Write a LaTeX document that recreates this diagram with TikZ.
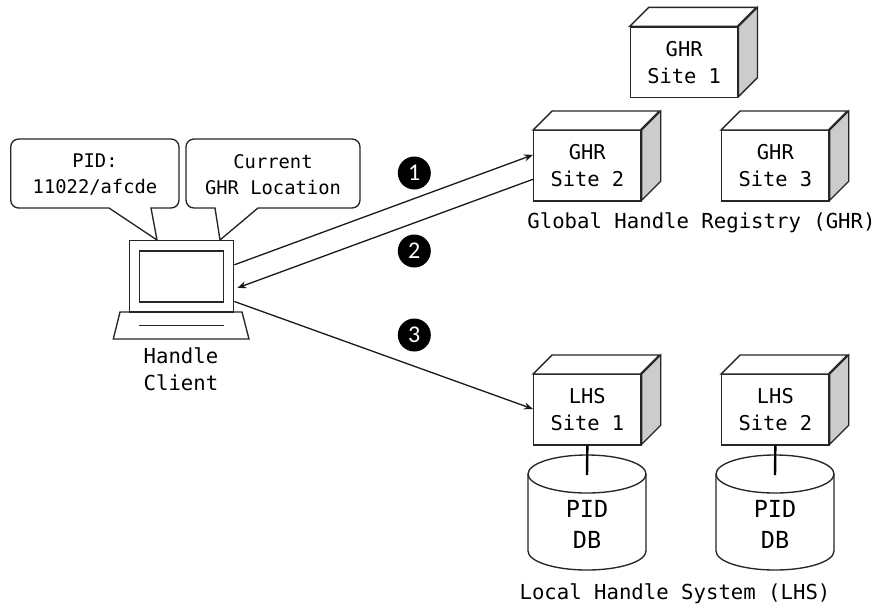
\documentclass[tikz,border=0pt]{standalone}
\usepackage{fontspec}
\setmainfont{Liberation Sans}
\newfontfamily\monof{DejaVu Sans Mono}
\newfontfamily\digitf{Carlito}
\usetikzlibrary{calc,arrows.meta}
\newcommand{\mtxt}[2]{\fontsize{#1}{#2}\selectfont\monof}
\newcommand{\cubebox}[5]{% name, left, top, line1, line2
  \node[frontface] (#1) at (#2+53.65,#3+35.15) {\raisebox{-1.2pt}{#4}\\\raisebox{-1.2pt}{#5}};
  \draw[edge,fill=white] (#1.north west) -- ++(19,-19) -- ++(107.3,0) -- ++(-19,19) -- cycle;
  \draw[edge,fill=sidegray] (#1.north east) -- ++(19,-19) -- ++(0,70.3) -- ++(-19,19) -- cycle;
}
\newcommand{\pidcyl}[3]{% name, left, box name
  \draw[edge,fill=white] (#2,474) -- (#2,551) arc[start angle=180,end angle=0,x radius=59,y radius=19] -- (#2+118,474);
  \draw[edge,fill=white] (#2+59,474) ellipse[x radius=59,y radius=19];
  \node[dbtext] (#1) at (#2+59,524.5) {PID\\DB};
  \coordinate (#1top) at (#2+59,475);
  \draw[link] (#3.south) -- (#1top);
}
\tikzset{
  edge/.style={draw=black!85,line width=1.35pt,line join=miter},
  frontface/.style={draw=black!85,line width=1.35pt,fill=white,minimum width=107.3pt,minimum height=70.3pt,inner sep=0pt,align=center,font=\mtxt{20.4}{27}},
  dbtext/.style={inner sep=0pt,align=center,font=\mtxt{23.5}{31}},
  link/.style={draw=black,line width=2.4pt},
  arrowline/.style={draw=black!90,line width=1.3pt,-{Stealth[length=9pt,width=7pt]}},
  lbl/.style={inner sep=0pt,align=center,font=\mtxt{20.65}{27}},
  callouttext/.style={inner sep=0pt,align=center,font=\mtxt{18.8}{26}},
  stepcircle/.style={circle,fill=black,minimum size=33pt,inner sep=0pt,text=white,font=\fontsize{24}{24}\selectfont\digitf},
}
\definecolor{sidegray}{HTML}{CCCCCC}
\begin{document}
\begin{tikzpicture}[x=1pt,y=-1pt]
\useasboundingbox[fill=white] (0,0) rectangle (877,606);
% GHR and LHS sites
\cubebox{ghra}{630.5}{27}{GHR}{Site 1}
\cubebox{ghrb}{533.7}{130.7}{GHR}{Site 2}
\cubebox{ghrc}{721.7}{130.7}{GHR}{Site 3}
\cubebox{lhsa}{533.7}{374.7}{LHS}{Site 1}
\cubebox{lhsb}{721.7}{374.7}{LHS}{Site 2}
\pidcyl{dba}{528}{lhsa}
\pidcyl{dbb}{716}{lhsb}
\node[lbl] (ghrlabel) at (701.5,223) {Global Handle Registry (GHR)};
\node[lbl] (lhslabel) at (675,594) {Local Handle System (LHS)};
% callouts
\draw[edge] (157,240) -- (151,208) -- (171,208) arc[start angle=90,end angle=0,radius=8] -- (179,147) arc[start angle=0,end angle=-90,radius=8] -- (18.7,139) arc[start angle=-90,end angle=-180,radius=8] -- (10.7,200) arc[start angle=180,end angle=90,radius=8] -- (109,208) -- cycle;
\node[callouttext] (pidtext) at (95,175) {PID:\\11022/afcde};
\draw[edge] (220,240) -- (258,208) -- (352,208) arc[start angle=90,end angle=0,radius=8] -- (360,147) arc[start angle=0,end angle=-90,radius=8] -- (194,139) arc[start angle=-90,end angle=-180,radius=8] -- (186,200) arc[start angle=180,end angle=90,radius=8] -- (215,208) -- cycle;
\node[callouttext] (ghrloc) at (273,175) {Current\\GHR Location};
% laptop
\draw[edge] (120,312) -- (242,312) -- (249,339) -- (113.3,339) -- cycle;
\node[edge,fill=white,minimum width=104.4pt,minimum height=71.3pt,inner sep=0pt] (laptop) at (181.5,276.35) {};
\node[edge,fill=white,minimum width=84pt,minimum height=51pt,inner sep=0pt] (screen) at (181.5,276.5) {};
\draw[draw=black!85,line width=1.5pt] (screen.west |- 0,325.7) -- (screen.east |- 0,325.7);
\node[lbl] (client) at (181,369) {Handle\\Client};
% connectors
\draw[arrowline] ($(laptop.north east)!.341!(laptop.south east)$) -- ($(ghrb.north west)!.346!(ghrb.south west)$);
\draw[arrowline] ($(ghrb.north west)!.687!(ghrb.south west)$) -- ($(laptop.north east)!.659!(laptop.south east)+(3,0)$);
\draw[arrowline] ($(laptop.north east)!.846!(laptop.south east)$) -- ($(lhsa.north west)!.488!(lhsa.south west)$);
% step markers
\node[stepcircle] (stepa) at (414.3,173) {1};
\node[stepcircle] (stepb) at (414.3,251) {2};
\node[stepcircle] (stepc) at (414.3,335) {3};
\end{tikzpicture}
\end{document}
